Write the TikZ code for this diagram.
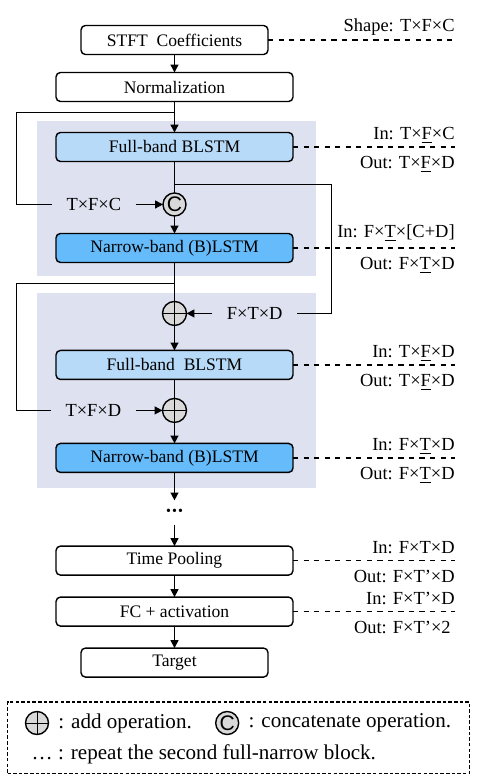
\documentclass[tikz,border=0pt]{standalone}
\usepackage{fontspec}
\setmainfont{Liberation Serif}
\newfontfamily\opfont{Liberation Sans}
\usetikzlibrary{arrows.meta, positioning, fit, backgrounds, calc}

\definecolor{blockbg}{HTML}{DEE1F0}
\definecolor{fullblue}{HTML}{B7DAF8}
\definecolor{narrowblue}{HTML}{66BBFB}
\definecolor{opgrey}{HTML}{D9D9D9}

\begin{document}
\begin{tikzpicture}[
    x=0.02cm, y=-0.02cm,
    font=\fontsize{10}{12}\selectfont,
    box/.style={
        draw,
        thick,
        rounded corners=2.5pt,
        align=center,
        minimum width=4.74cm,
        minimum height=0.58cm,
        inner sep=0pt,
        outer sep=0pt
    },
    shortbox/.style={box, minimum width=3.74cm},
    fullbox/.style={box, fill=fullblue},
    narrowbox/.style={box, fill=narrowblue},
    opcircle/.style={draw, thick, circle, fill=opgrey, minimum size=0.46cm, inner sep=0pt, outer sep=0pt},
    addop/.style={opcircle, path picture={
        \draw[thin] (path picture bounding box.north) -- (path picture bounding box.south)
                    (path picture bounding box.west) -- (path picture bounding box.east);}},
    catop/.style={opcircle, font=\opfont\fontsize{12}{12}\selectfont},
    arrow/.style={-{Triangle[length=4.5pt, width=4.5pt]}, thick},
    link/.style={thick},
    dashline/.style={dashed, thick},
    dim/.style={inner sep=0pt, font=\fontsize{10.5}{12}\selectfont},
    inlabel/.style={dim, anchor=base east, yshift=0.14cm},
    outlabel/.style={dim, anchor=base east, yshift=-0.43cm},
    skiplabel/.style={inner xsep=0.28cm, inner ysep=0pt, font=\fontsize{10.5}{12}\selectfont},
    legtext/.style={inner sep=0pt, font=\fontsize{12}{14}\selectfont}
]
\useasboundingbox (0,0) rectangle (482,782);

% ------------------------
% Main column
% ------------------------
\node[shortbox] (stft) at (174.5,40) {STFT\ \ Coefficients};
\node[box, below=0.36cm of stft] (norm) {Normalization};

% first full-narrow block
\node[fullbox, below=0.62cm of norm] (fb1) {Full-band BLSTM};
\node[catop, below=0.63cm of fb1] (cat) {C};
\node[narrowbox, below=0.35cm of cat] (nb1) {Narrow-band (B)LSTM};

% second full-narrow block
\node[addop, minimum size=0.48cm, below=0.78cm of nb1] (add1) {};
\node[fullbox, below=0.5cm of add1] (fb2) {Full-band\ \ BLSTM};
\node[addop, minimum size=0.48cm, below=0.38cm of fb2] (add2) {};
\node[narrowbox, below=0.42cm of add2] (nb2) {Narrow-band (B)LSTM};

\node[inner sep=0pt, minimum height=0.48cm, below=0.56cm of nb2] (dots)
    {\fontsize{8}{8}\selectfont\textbullet\hspace{0.6pt}\textbullet\hspace{0.6pt}\textbullet};

% output head
\node[box, below=0.42cm of dots] (pool) {Time Pooling};
\node[box, below=0.44cm of pool] (fc) {FC + activation};
\node[shortbox, below=0.44cm of fc] (target) {Target};

% ------------------------
% Background of the blocks
% ------------------------
\begin{scope}[on background layer]
\fill[blockbg] ([xshift=-0.38cm, yshift=0.22cm]fb1.north west)
    rectangle ([xshift=0.46cm, yshift=-0.28cm]nb1.south east);
\fill[blockbg] ($(add1.north -| fb2.west)+(-0.38cm,0.16cm)$)
    rectangle ([xshift=0.46cm, yshift=-0.32cm]nb2.south east);
\end{scope}

% ------------------------
% Main arrows
% ------------------------
\draw[arrow] (stft) -- (norm);
\draw[arrow] (norm) -- (fb1);
\draw[link]  (fb1) -- (cat);
\draw[arrow] (cat) -- (nb1);
\draw[link]  (nb1) -- (add1);
\draw[arrow] (add1) -- (fb2);
\draw[link]  (fb2) -- (add2);
\draw[arrow] (add2) -- (nb2);
\draw[arrow] (nb2) -- (dots);
\draw[arrow] (dots) -- (pool);
\draw[arrow] (pool) -- (fc);
\draw[arrow] (fc) -- (target);

% ------------------------
% Skip connections
% ------------------------
\coordinate (split1) at ($(norm.south)!0.355!(fb1.north)$);
\coordinate (left1) at ([xshift=-3.16cm]split1);
\node[skiplabel, left=0.55cm of cat] (tfc) {T×F×C};
\draw[link] (split1) -- (left1) |- (tfc.west);
\draw[arrow] (tfc) -- (cat);

\coordinate (split2) at ($(fb1.south)!0.73!(cat.north)$);
\coordinate (right1) at ([xshift=3.14cm]split2);
\node[skiplabel, right=0.52cm of add1] (ftd) {F×T×D};
\draw[link] (split2) -- (right1) |- (ftd.east);
\draw[arrow] (ftd) -- (add1);

\coordinate (split3) at ($(nb1.south)!0.54!(add1.north)$);
\coordinate (left2) at ([xshift=-3.16cm]split3);
\node[skiplabel, left=0.54cm of add2] (tfd) {T×F×D};
\draw[link] (split3) -- (left2) |- (tfd.west);
\draw[arrow] (tfd) -- (add2);

% ------------------------
% Shapes on the right
% ------------------------
\coordinate (rx) at (455,0);

\coordinate (stftr) at (stft.east -| rx);
\draw[dashline] (stft) -- (stftr);
\node[dim, anchor=base east, yshift=0.18cm] (stftshape) at (stftr) {Shape: T×F×C};

\coordinate (fb1r) at (fb1.east -| rx);
\draw[dashline] (fb1) -- (fb1r);
\node[inlabel] (fb1in) at (fb1r) {In: T×\underline{F}×C};
\node[outlabel] (fb1out) at (fb1r) {Out: T×\underline{F}×D};

\coordinate (nb1r) at (nb1.east -| rx);
\draw[dashline] (nb1) -- (nb1r);
\node[inlabel, yshift=0.06cm] (nb1in) at (nb1r) {In: F×\underline{T}×[C+D]};
\node[outlabel] (nb1out) at (nb1r) {Out: F×\underline{T}×D};

\coordinate (fb2r) at (fb2.east -| rx);
\draw[dashline] (fb2) -- (fb2r);
\node[inlabel] (fb2in) at (fb2r) {In: T×\underline{F}×D};
\node[outlabel] (fb2out) at (fb2r) {Out: T×\underline{F}×D};

\coordinate (nb2r) at (nb2.east -| rx);
\draw[dashline] (nb2) -- (nb2r);
\node[inlabel] (nb2in) at (nb2r) {In: F×\underline{T}×D};
\node[outlabel] (nb2out) at (nb2r) {Out: F×\underline{T}×D};

\coordinate (poolr) at (pool.east -| rx);
\draw[dashline] (pool) -- (poolr);
\node[inlabel] (poolin) at (poolr) {In: F×T×D};
\node[outlabel] (poolout) at (poolr) {Out: F×T’×D};

\coordinate (fcr) at (fc.east -| rx);
\draw[dashline] (fc) -- (fcr);
\node[inlabel] (fcin) at (fcr) {In: F×T’×D};
\node[outlabel, xshift=-0.08cm] (fcout) at (fcr) {Out: F×T’×2};

% ------------------------
% Legend
% ------------------------
\node[addop] (legadd) at (37,723) {};
\node[legtext, right=0.19cm of legadd] (legaddtxt) {: add operation.};
\node[catop, right=0.47cm of legaddtxt] (legcat) {C};
\node[legtext, right=0.19cm of legcat] (legcattxt) {: concatenate operation.};
\node[legtext, below right=0.26cm and 0.05cm of legadd.south west] (legdots)
    {\dots\ : repeat the second full-narrow block.};

\node[
    draw,
    line width=0.6pt,
    dash pattern=on 2pt off 1.2pt,
    fit=(legadd)(legcattxt)(legdots),
    inner xsep=0.36cm,
    inner ysep=0.19cm
] (legend) {};

\end{tikzpicture}
\end{document}
